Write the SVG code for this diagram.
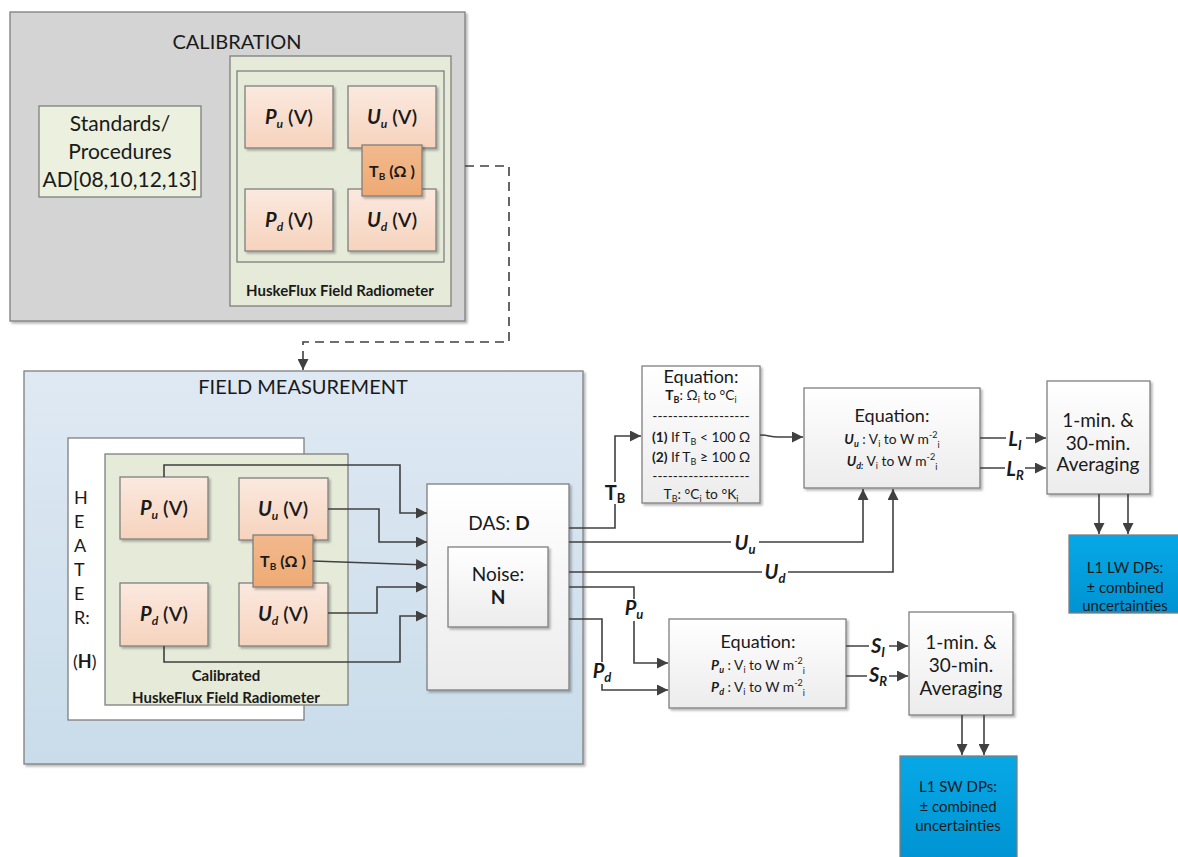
<svg xmlns="http://www.w3.org/2000/svg" width="1178" height="857" viewBox="0 0 1178 857">
<defs>
<style>
text{font-family:Lato,"Open Sans","DejaVu Sans",sans-serif;fill:#1a1a1a}
.ttl{font-size:20px;text-anchor:middle}
.std{font-size:21px;text-anchor:middle}
.lbl{font-size:19px;text-anchor:middle}
.sen{font-size:20px;text-anchor:middle;font-weight:600}
.bi{font-weight:bold;font-style:italic}
.b{font-weight:bold}
.sub{font-size:12px}
.rad{font-size:15px;font-weight:bold;text-anchor:middle}
.eqh{font-size:18px;text-anchor:middle}
.eq{font-size:13.8px;text-anchor:middle}
.ln{font-size:20px;text-anchor:middle;font-weight:bold}
.l1{font-size:15px;text-anchor:middle}
.box{stroke:#7f7f7f;stroke-width:1.3}
.wire{fill:none;stroke:#404040;stroke-width:1.6}
.arr{fill:none;stroke:#404040;stroke-width:1.6;marker-end:url(#ah)}
</style>
<marker id="ah" viewBox="0 0 10 10" refX="10" refY="5" markerWidth="11" markerHeight="11" markerUnits="userSpaceOnUse" orient="auto">
<path d="M0,0 L10,5 L0,10 z" fill="#404040"/>
</marker>
<linearGradient id="peach" x1="0" y1="0" x2="0" y2="1"><stop offset="0" stop-color="#fbe9df"/><stop offset="1" stop-color="#f6d3bd"/></linearGradient>
<linearGradient id="orng" x1="0" y1="0" x2="0" y2="1"><stop offset="0" stop-color="#f2b98c"/><stop offset="1" stop-color="#eeaa74"/></linearGradient>
<linearGradient id="blue" x1="0" y1="0" x2="0" y2="1"><stop offset="0" stop-color="#dfe9f3"/><stop offset="1" stop-color="#c9dcea"/></linearGradient>
<linearGradient id="wht" x1="0" y1="0" x2="0" y2="1"><stop offset="0" stop-color="#ffffff"/><stop offset="1" stop-color="#ececec"/></linearGradient>
<linearGradient id="cyan" x1="0" y1="0" x2="0" y2="1"><stop offset="0" stop-color="#07a8e6"/><stop offset="1" stop-color="#0093d3"/></linearGradient>
<filter id="sh" x="-5%" y="-5%" width="115%" height="115%"><feDropShadow dx="2" dy="2" stdDeviation="1.2" flood-color="#000" flood-opacity="0.28"/></filter>
</defs>
<rect width="1178" height="857" fill="#ffffff"/>

<g id="calibration">
<rect x="10" y="12" width="455" height="309" fill="#d4d4d4" class="box" filter="url(#sh)"/>
<text x="237" y="49" class="ttl">CALIBRATION</text>
</g>
<g id="standards">
<rect x="39" y="106" width="162" height="91" fill="#ebf0df" class="box"/>
<text x="120" y="131" class="std">Standards/</text>
<text x="120" y="159" class="std">Procedures</text>
<text x="120" y="187" class="std">AD[08,10,12,13]</text>
</g>
<g id="cal-radiometer">
<rect x="230" y="56" width="221" height="250" fill="#e6ebd9" class="box"/>
<rect x="237" y="71" width="207" height="191" fill="#e6ebd9" class="box"/>
<text x="340" y="296" class="rad">HuskeFlux Field Radiometer</text>
</g>
<g id="cal-pu">
<rect x="245" y="86" width="88" height="62" fill="url(#peach)" class="box" filter="url(#sh)"/>
<text x="289" y="124" class="sen"><tspan class="bi">P</tspan><tspan class="bi sub" dy="4">u</tspan><tspan dy="-4"> (V)</tspan></text>
</g>
<g id="cal-uu">
<rect x="348" y="86" width="88" height="62" fill="url(#peach)" class="box" filter="url(#sh)"/>
<text x="392" y="124" class="sen"><tspan class="bi">U</tspan><tspan class="bi sub" dy="4">u</tspan><tspan dy="-4"> (V)</tspan></text>
</g>
<g id="cal-pd">
<rect x="245" y="189" width="88" height="62" fill="url(#peach)" class="box" filter="url(#sh)"/>
<text x="289" y="227" class="sen"><tspan class="bi">P</tspan><tspan class="bi sub" dy="4">d</tspan><tspan dy="-4"> (V)</tspan></text>
</g>
<g id="cal-ud">
<rect x="348" y="189" width="88" height="62" fill="url(#peach)" class="box" filter="url(#sh)"/>
<text x="392" y="227" class="sen"><tspan class="bi">U</tspan><tspan class="bi sub" dy="4">d</tspan><tspan dy="-4"> (V)</tspan></text>
</g>
<g id="cal-tb">
<rect x="362" y="145" width="60" height="51" fill="url(#orng)" class="box" filter="url(#sh)"/>
<text x="392" y="177" class="sen" style="font-size:16px;font-weight:bold"><tspan>T</tspan><tspan class="sub" style="font-size:10px" dy="3">B</tspan><tspan dy="-3"> (Ω )</tspan></text>
</g>

<g id="field">
<rect x="24" y="371" width="559" height="393" fill="url(#blue)" class="box" filter="url(#sh)"/>
<text x="303" y="394" class="ttl">FIELD MEASUREMENT</text>
</g>
<g id="heater">
<rect x="68" y="438" width="236" height="282" fill="#ffffff" class="box"/>
<text x="74" y="504" style="font-size:18px">H</text>
<text x="74" y="528" style="font-size:18px">E</text>
<text x="74" y="552" style="font-size:18px">A</text>
<text x="74" y="576" style="font-size:18px">T</text>
<text x="74" y="600" style="font-size:18px">E</text>
<text x="74" y="624" style="font-size:18px">R:</text>
<text x="73" y="668" style="font-size:18px">(<tspan class="b">H</tspan>)</text>
</g>
<g id="field-radiometer">
<rect x="105" y="454" width="243" height="251" fill="#e6ebd9" class="box"/>
<text x="226" y="681" class="rad">Calibrated</text>
<text x="226" y="703" class="rad">HuskeFlux Field Radiometer</text>
</g>
<g id="f-pu">
<rect x="120" y="477" width="88" height="62" fill="url(#peach)" class="box" filter="url(#sh)"/>
<text x="164" y="515" class="sen"><tspan class="bi">P</tspan><tspan class="bi sub" dy="4">u</tspan><tspan dy="-4"> (V)</tspan></text>
</g>
<g id="f-uu">
<rect x="239" y="478" width="89" height="62" fill="url(#peach)" class="box" filter="url(#sh)"/>
<text x="283" y="516" class="sen"><tspan class="bi">U</tspan><tspan class="bi sub" dy="4">u</tspan><tspan dy="-4"> (V)</tspan></text>
</g>
<g id="f-pd">
<rect x="120" y="583" width="88" height="63" fill="url(#peach)" class="box" filter="url(#sh)"/>
<text x="164" y="621" class="sen"><tspan class="bi">P</tspan><tspan class="bi sub" dy="4">d</tspan><tspan dy="-4"> (V)</tspan></text>
</g>
<g id="f-ud">
<rect x="239" y="583" width="89" height="63" fill="url(#peach)" class="box" filter="url(#sh)"/>
<text x="283" y="621" class="sen"><tspan class="bi">U</tspan><tspan class="bi sub" dy="4">d</tspan><tspan dy="-4"> (V)</tspan></text>
</g>
<g id="f-tb">
<rect x="253" y="535" width="60" height="52" fill="url(#orng)" class="box" filter="url(#sh)"/>
<text x="283" y="567" class="sen" style="font-size:16px;font-weight:bold"><tspan>T</tspan><tspan class="sub" style="font-size:10px" dy="3">B</tspan><tspan dy="-3"> (Ω )</tspan></text>
</g>

<g id="das">
<rect x="427" y="484" width="142" height="206" fill="url(#wht)" class="box" filter="url(#sh)"/>
<text x="499" y="530" class="lbl">DAS: <tspan class="b">D</tspan></text>
</g>
<g id="noise">
<rect x="448" y="547" width="100" height="80" fill="url(#wht)" class="box" filter="url(#sh)"/>
<text x="498" y="581" class="lbl">Noise:</text>
<text x="498" y="604" class="lbl b">N</text>
</g>

<g id="eq-tb">
<rect x="642" y="366" width="118" height="137" fill="url(#wht)" class="box" filter="url(#sh)"/>
<text x="701" y="383" class="eqh">Equation:</text>
<text x="701" y="400" class="eq"><tspan class="b">T</tspan><tspan class="b" style="font-size:9px" dy="3">B</tspan><tspan dy="-3">: Ω</tspan><tspan style="font-size:9px" dy="3">i</tspan><tspan dy="-3"> to °C</tspan><tspan style="font-size:9px" dy="3">i</tspan></text>
<text x="701" y="421" class="eq">-------------------</text>
<text x="701" y="442" class="eq"><tspan class="b">(1)</tspan> If T<tspan style="font-size:9px" dy="3">B</tspan><tspan dy="-3"> &lt; 100 Ω</tspan></text>
<text x="701" y="462" class="eq"><tspan class="b">(2)</tspan> If T<tspan style="font-size:9px" dy="3">B</tspan><tspan dy="-3"> ≥ 100 Ω</tspan></text>
<text x="701" y="481" class="eq">-------------------</text>
<text x="701" y="499" class="eq"><tspan>T</tspan><tspan style="font-size:9px" dy="3">B</tspan><tspan dy="-3">: °C</tspan><tspan style="font-size:9px" dy="3">i</tspan><tspan dy="-3">  to °K</tspan><tspan style="font-size:9px" dy="3">i</tspan></text>
</g>
<g id="eq-u">
<rect x="804" y="388" width="176" height="100" fill="url(#wht)" class="box" filter="url(#sh)"/>
<text x="892" y="422" class="eqh">Equation:</text>
<text x="892" y="444" class="eq"><tspan class="bi">U</tspan><tspan class="bi" style="font-size:9px" dy="3">u</tspan><tspan dy="-3"> : V</tspan><tspan style="font-size:9px" dy="3">i</tspan><tspan dy="-3"> to W m</tspan><tspan style="font-size:9px" dy="-6">-2</tspan><tspan style="font-size:9px" dy="10">i</tspan></text>
<text x="892" y="466" class="eq"><tspan class="bi">U</tspan><tspan class="bi" style="font-size:9px" dy="3">d:</tspan><tspan dy="-3"> V</tspan><tspan style="font-size:9px" dy="3">i</tspan><tspan dy="-3"> to W m</tspan><tspan style="font-size:9px" dy="-6">-2</tspan><tspan style="font-size:9px" dy="10">i</tspan></text>
</g>
<g id="avg-lw">
<rect x="1047" y="381" width="103" height="113" fill="url(#wht)" class="box" filter="url(#sh)"/>
<text x="1098" y="427" class="lbl">1-min. &amp;</text>
<text x="1098" y="450" class="lbl">30-min.</text>
<text x="1098" y="471" class="lbl">Averaging</text>
</g>
<g id="l1-lw">
<rect x="1069" y="535" width="112" height="78" fill="url(#cyan)" class="box"/>
<text x="1125" y="573" class="l1">L1 LW DPs:</text>
<text x="1125" y="593" class="l1">± combined</text>
<text x="1125" y="611" class="l1">uncertainties</text>
</g>
<g id="eq-p">
<rect x="669" y="619" width="177" height="89" fill="url(#wht)" class="box" filter="url(#sh)"/>
<text x="758" y="648" class="eqh">Equation:</text>
<text x="758" y="670" class="eq"><tspan class="bi">P</tspan><tspan class="bi" style="font-size:9px" dy="3">u</tspan><tspan dy="-3"> : V</tspan><tspan style="font-size:9px" dy="3">i</tspan><tspan dy="-3"> to W m</tspan><tspan style="font-size:9px" dy="-6">-2</tspan><tspan style="font-size:9px" dy="10">i</tspan></text>
<text x="758" y="692" class="eq"><tspan class="bi">P</tspan><tspan class="bi" style="font-size:9px" dy="3">d</tspan><tspan dy="-3"> : V</tspan><tspan style="font-size:9px" dy="3">i</tspan><tspan dy="-3"> to W m</tspan><tspan style="font-size:9px" dy="-6">-2</tspan><tspan style="font-size:9px" dy="10">i</tspan></text>
</g>
<g id="avg-sw">
<rect x="909" y="612" width="104" height="103" fill="url(#wht)" class="box" filter="url(#sh)"/>
<text x="961" y="649" class="lbl">1-min. &amp;</text>
<text x="961" y="672" class="lbl">30-min.</text>
<text x="961" y="695" class="lbl">Averaging</text>
</g>
<g id="l1-sw">
<rect x="900" y="756" width="117" height="105" fill="url(#cyan)" class="box"/>
<text x="958" y="792" class="l1">L1 SW DPs:</text>
<text x="958" y="812" class="l1">± combined</text>
<text x="958" y="831" class="l1">uncertainties</text>
</g>

<g id="connectors">
<path d="M465,166 H509 V342 H303 V370" class="arr" stroke-dasharray="9,6"/>
<path d="M164,477 V465 H400 V513 H427" class="arr"/>
<path d="M328,509 H379 V542 H427" class="arr"/>
<path d="M313,561 L427,565" class="arr"/>
<path d="M328,613 H377 V587 H427" class="arr"/>
<path d="M164,646 V662 H400 V616 H427" class="arr"/>
<path d="M569,528 H615 V436 H641" class="arr"/>
<path d="M569,542 H863 V489" class="arr"/>
<path d="M569,572 H893 V489" class="arr"/>
<path d="M569,587 H634 V663 H668" class="arr"/>
<path d="M569,619 H602 V690 H668" class="arr"/>
<path d="M760,435 C768,435 770,437 778,437 H803" class="arr"/>
<path d="M980,438 H1046" class="arr"/>
<path d="M980,468 H1046" class="arr"/>
<path d="M1099,494 V534" class="arr"/>
<path d="M1128,494 V534" class="arr"/>
<path d="M846,646 H908" class="arr"/>
<path d="M846,676 H908" class="arr"/>
<path d="M962,715 V755" class="arr"/>
<path d="M984,715 V755" class="arr"/>
<g id="edge-labels">
<rect x="605" y="482" width="20" height="22" fill="#fff"/>
<text x="615" y="500" class="ln">T<tspan style="font-size:13px" dy="3">B</tspan></text>
<rect x="731" y="532" width="28" height="21" fill="#fff"/>
<text x="745" y="550" class="ln bi">U<tspan style="font-size:13px" dy="4">u</tspan></text>
<rect x="762" y="562" width="26" height="21" fill="#fff"/>
<text x="775" y="579" class="ln bi">U<tspan style="font-size:13px" dy="4">d</tspan></text>
<rect x="623" y="599" width="22" height="22" fill="#fff"/>
<text x="634" y="615" class="ln bi">P<tspan style="font-size:13px" dy="4">u</tspan></text>
<rect x="591" y="662" width="23" height="22" fill="#fff"/>
<text x="602" y="678" class="ln bi">P<tspan style="font-size:13px" dy="4">d</tspan></text>
<rect x="1006" y="430" width="20" height="20" fill="#fff"/>
<text x="1015" y="446" class="ln bi">L<tspan style="font-size:13px" dy="4">I</tspan></text>
<rect x="1005" y="459" width="20" height="21" fill="#fff"/>
<text x="1015" y="476" class="ln bi">L<tspan style="font-size:13px" dy="4">R</tspan></text>
<rect x="869" y="638" width="20" height="20" fill="#fff"/>
<text x="878" y="653" class="ln bi">S<tspan style="font-size:13px" dy="4">I</tspan></text>
<rect x="867" y="667" width="22" height="20" fill="#fff"/>
<text x="878" y="682" class="ln bi">S<tspan style="font-size:13px" dy="4">R</tspan></text>
</g>
</g>
</svg>
